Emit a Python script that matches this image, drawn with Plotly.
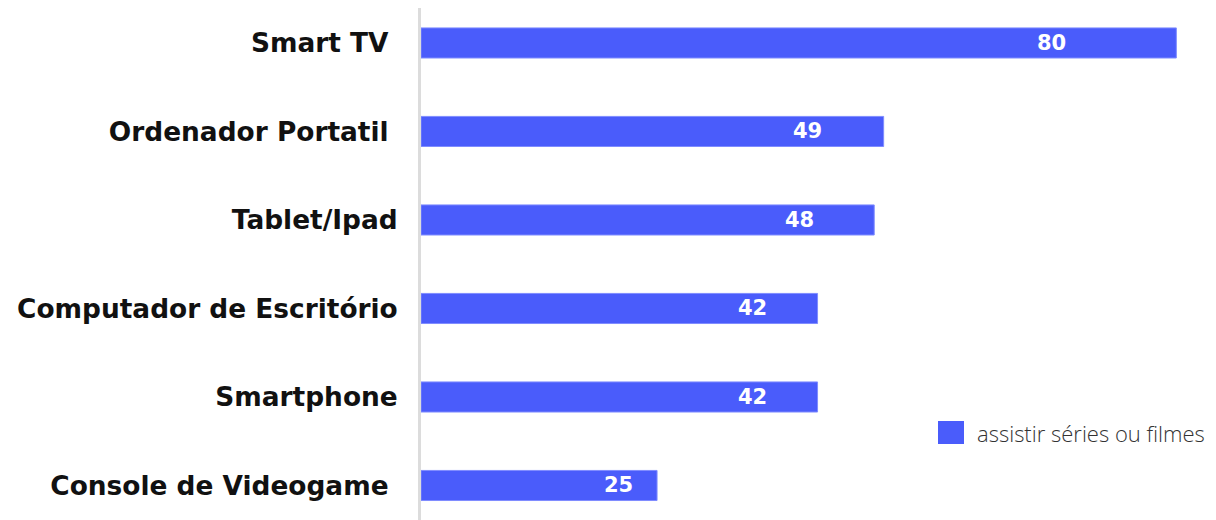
import plotly.graph_objects as go

categories = ["Smart TV\u00a0", "Ordenador Portatil\u00a0", "Tablet/Ipad",
              "Computador de Escritório", "Smartphone", "Console de Videogame\u00a0"]
values = [80, 49, 48, 42, 42, 25]
series_name = "assistir séries ou filmes"

BAR = "#4a5cfb"
FONT = "DejaVu Sans"

fig = go.Figure()
fig.add_trace(go.Bar(
    x=values, y=categories, orientation="h", name=series_name,
    marker=dict(color=BAR, line=dict(color="#7f8cff", width=1)),
    width=0.34, showlegend=False,
))

# value labels inside bars, near the end
for c, v in zip(categories, values):
    fig.add_annotation(x=v * 0.835, y=c, text=f"<b>{v}</b>", showarrow=False,
                       xanchor="center", yanchor="middle",
                       font=dict(family=FONT, size=21, color="white"))

# legend (square + text)
fig.add_shape(type="rect", xref="paper", yref="paper",
              x0=(938 - 421) / 795, x1=(964 - 421) / 795,
              y0=(520 - 444) / 512, y1=(520 - 421) / 512,
              fillcolor=BAR, line=dict(width=0))
fig.add_annotation(xref="paper", yref="paper", x=(975 - 421) / 795,
                   y=(520 - 433) / 512, text=series_name, showarrow=False,
                   xanchor="left", yanchor="middle",
                   font=dict(family="Open Sans", size=22, color="#333333", weight=300))

fig.update_layout(
    width=1208, height=512,
    margin=dict(l=413, r=0, t=0, b=0, autoexpand=False),
    plot_bgcolor="white", paper_bgcolor="white",
    showlegend=False,
    xaxis=dict(range=[0, 84.2], visible=False, fixedrange=True),
    yaxis=dict(
        categoryorder="array", categoryarray=categories,
        range=[5.39, -0.395], showline=True, linecolor="#dcdcdc", linewidth=3,
        showgrid=False, zeroline=False, ticks="", ticklabelstandoff=15,
        tickfont=dict(family=FONT, size=26.4, color="#111111", weight="bold"),
    ),
)

fig.write_html("out.html")
